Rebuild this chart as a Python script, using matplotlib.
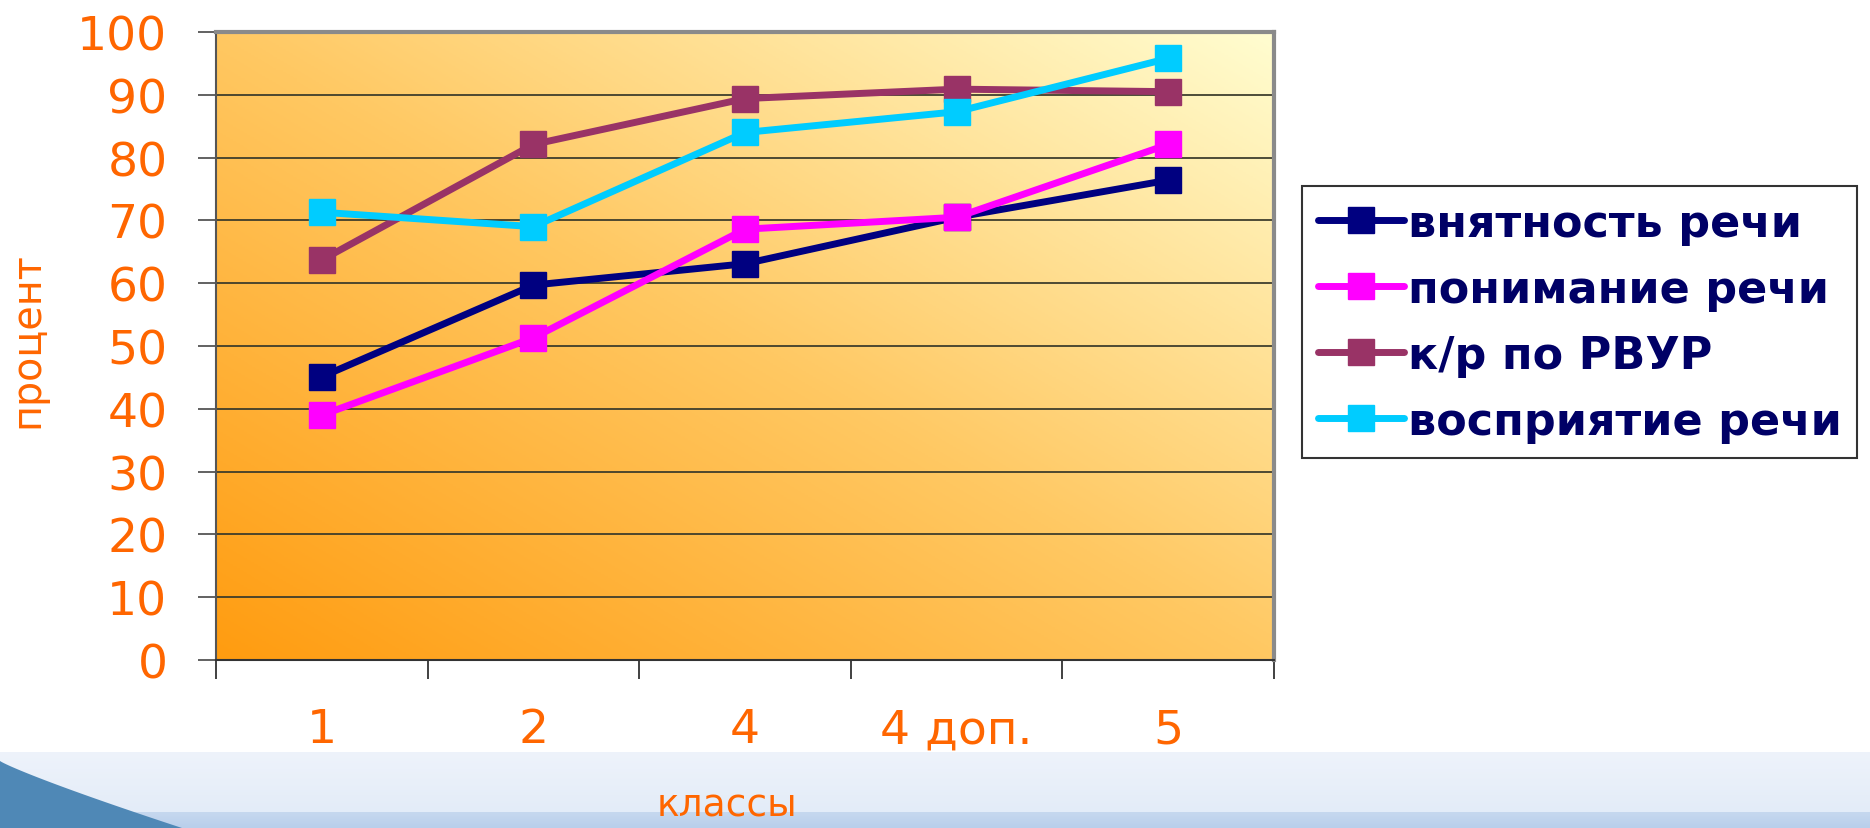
import numpy as np
import matplotlib
matplotlib.use("Agg")
import matplotlib.pyplot as plt
from matplotlib.colors import LinearSegmentedColormap
from matplotlib.lines import Line2D

plt.rcParams['font.family'] = ['DejaVu Sans']

categories = ["1", "2", "4", "4 доп.", "5"]
series_names = ["внятность речи", "понимание речи", "к/р по РВУР", "восприятие речи"]
vnyatnost = [45.1, 59.7, 63.1, 70.5, 76.4]
ponimanie = [39.0, 51.3, 68.6, 70.5, 82.1]
kr_rvur = [63.7, 82.1, 89.4, 90.9, 90.5]
vospriyatie = [71.3, 69.0, 84.0, 87.3, 95.8]
series_values = [vnyatnost, ponimanie, kr_rvur, vospriyatie]
series_colors = ["#000080", "#FF00FF", "#993366", "#00CCFF"]
y_ticks = list(range(0, 101, 10))

ORANGE = "#FF6600"
W, H = 1870, 829
fig = plt.figure(figsize=(W / 100, H / 100), dpi=100)
fig.patch.set_facecolor("white")

# background decoration (bottom band and swoosh)
bg = fig.add_axes([0, 0, 1, 1], zorder=-10)
bg.set_xlim(0, W)
bg.set_ylim(H, 0)
bg.axis("off")
band = np.linspace(0, 1, 100).reshape(-1, 1)
band_cmap = LinearSegmentedColormap.from_list("band", ["#EEF3FB", "#E3ECF8"])
bg.imshow(band, extent=[0, W, 813, 753], cmap=band_cmap, aspect="auto", zorder=0)
band2_cmap = LinearSegmentedColormap.from_list("band2", ["#C6D8EF", "#B9CFEB"])
bg.imshow(band, extent=[0, W, H, 813], cmap=band2_cmap, aspect="auto", zorder=0)
tt = np.linspace(0, 1, 60)
sw_x = 182 * tt ** 1.12
sw_y = 762 + 67 * tt
poly_x = np.concatenate([[0], sw_x, [0]])
poly_y = np.concatenate([[762], sw_y, [H]])
bg.fill(poly_x, poly_y, color="#4F88B6", zorder=1, lw=0)

# main axes
ax = fig.add_axes([216 / W, 168 / H, (1274 - 216) / W, (796 - 168) / H])
ax.set_xlim(-0.5, len(categories) - 0.5)
ax.set_ylim(0, 100)

# gradient plot area: orange bottom-left to pale yellow top-right
gx, gy = np.meshgrid(np.linspace(0, 1, 300), np.linspace(0, 1, 300))
grad = (gx + gy) / 2
grad_cmap = LinearSegmentedColormap.from_list("g", ["#FF9C10", "#FFC862", "#FFFDD0"])
ax.imshow(grad, extent=[0, 1, 0, 1], transform=ax.transAxes, origin="lower",
          cmap=grad_cmap, aspect="auto", zorder=0)

for yv in y_ticks:
    ax.axhline(yv, color="#3a3a2a", lw=1.4, zorder=1, alpha=0.9)

for vals, col in zip(series_values, series_colors):
    ax.plot(range(len(categories)), vals, color=col, lw=5, marker="s",
            markersize=19, zorder=3, solid_joinstyle="round")

ax.set_yticks(y_ticks)
ax.tick_params(axis="y", direction="out", length=13, width=1.3, color="#555555",
               labelsize=34, labelcolor=ORANGE, pad=22)
ax.set_xticks(range(len(categories)))
ax.set_xticklabels(categories)
ax.tick_params(axis="x", which="major", length=0, labelsize=34, labelcolor=ORANGE, pad=34)
ax.set_xticks(np.arange(-0.5, len(categories)), minor=True)
ax.tick_params(axis="x", which="minor", direction="out", length=14, width=1.3, color="#333333")

for side in ["top", "right"]:
    ax.spines[side].set_color("#8a8a8a")
    ax.spines[side].set_linewidth(3)
ax.spines["left"].set_color("#555555")
ax.spines["left"].set_linewidth(1.5)
ax.spines["bottom"].set_color("#333333")
ax.spines["bottom"].set_linewidth(1.5)

fig.text(27 / W, 1 - 340 / H, "процент", rotation=90, color=ORANGE, fontsize=28.5,
         ha="center", va="center")
fig.text(727 / W, 4 / H, "классы", color=ORANGE, fontsize=27,
         ha="center", va="bottom")

handles = [Line2D([], [], color=c, lw=5, marker="s", markersize=19,
                  solid_capstyle="round") for c in series_colors]
leg = fig.legend(handles, series_names, loc="upper left",
                 bbox_to_anchor=(1302 / W, 1 - 187 / H), bbox_transform=fig.transFigure,
                 frameon=True, fancybox=False, edgecolor="black",
                 prop={"weight": "bold", "size": 32}, handlelength=1.95,
                 handletextpad=0.08, labelspacing=0.52, borderpad=0.35, borderaxespad=0)
leg.get_frame().set_linewidth(1.5)
leg.get_frame().set_facecolor("white")
for txt in leg.get_texts():
    txt.set_color("#000066")

fig.savefig("out.png", dpi=100)
